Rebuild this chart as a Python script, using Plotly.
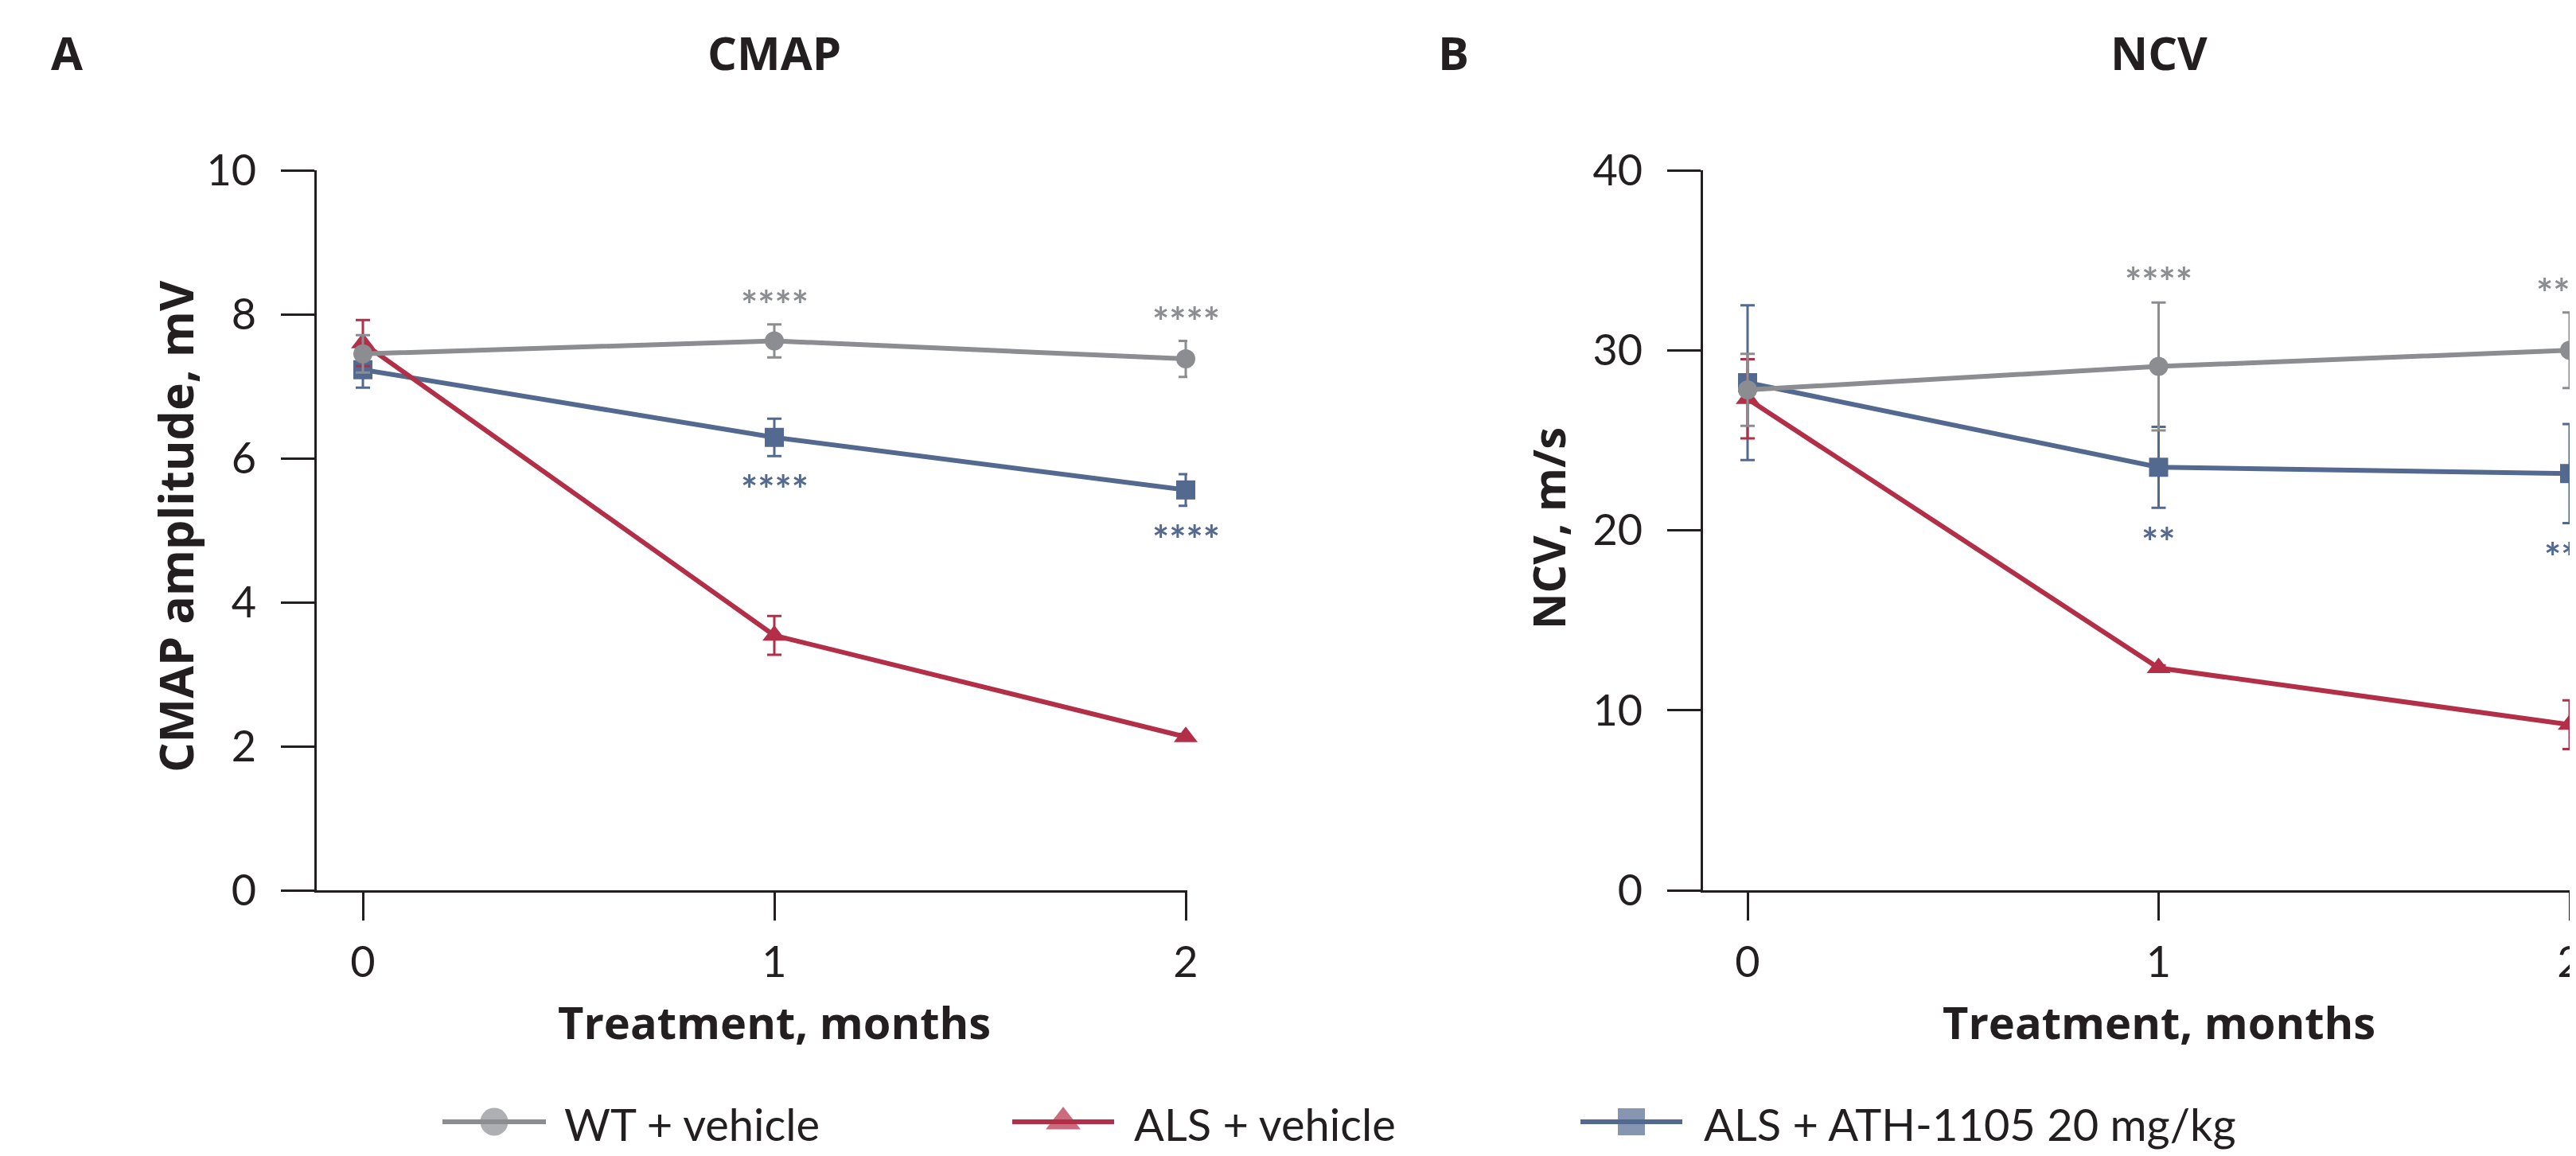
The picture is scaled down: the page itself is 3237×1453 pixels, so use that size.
import plotly.graph_objects as go

# ---------------- data ----------------
months = [0, 1, 2]

series_names = ["WT + vehicle", "ALS + vehicle", "ALS + ATH-1105 20 mg/kg"]

cmap_wt = [7.45, 7.63, 7.38]
cmap_wt_err = [0.26, 0.23, 0.25]
cmap_als = [7.6, 3.54, 2.13]
cmap_als_err = [0.32, 0.27, 0.04]
cmap_ath = [7.23, 6.29, 5.56]
cmap_ath_err = [0.25, 0.26, 0.22]

ncv_wt = [27.8, 29.1, 30.0]
ncv_wt_err = [2.0, 3.55, 2.1]
ncv_als = [27.3, 12.35, 9.2]
ncv_als_err = [2.2, 0.15, 1.35]
ncv_ath = [28.2, 23.5, 23.15]
ncv_ath_err = [4.3, 2.25, 2.75]

# significance labels: (month, label, y-position in data units)
cmap_sig_wt = [(1, "****", 8.13), (2, "****", 7.90)]
cmap_sig_ath = [(1, "****", 5.57), (2, "****", 4.87)]
ncv_sig_wt = [(1, "****", 33.8), (2, "****", 33.2)]
ncv_sig_ath = [(1, "**", 19.35), (2, "***", 18.5)]

x_ticks = [0, 1, 2]
cmap_yticks = [0, 2, 4, 6, 8, 10]
ncv_yticks = [0, 10, 20, 30, 40]

# ---------------- style ----------------
W, H = 3237, 1453
OFF = 8  # page body margin
GRAY = "#8C8D91"
RED = "#B22F47"
BLUE = "#53698F"
INK = "#231F20"
FONT = "Lato"
BFONT = "Open Sans"
colors = [GRAY, RED, BLUE]
symbols = ["circle", "triangle-up", "square"]
msizes = [24, 26, 24]

def px_x(p):
    return (p - OFF) / W

def px_y(p):
    return 1 - (p - OFF) / H

fig = go.Figure()

def add_panel(xa, ya, ys, errs):
    for name, y, e, c, s, ms in zip(series_names, ys, errs, colors, symbols, msizes):
        fig.add_trace(go.Scatter(
            x=months, y=y, name=name, mode="lines+markers",
            line=dict(color=c, width=6),
            marker=dict(color=c, symbol=s, size=ms, line=dict(width=0)),
            error_y=dict(type="data", array=e, visible=True, color=c, thickness=3, width=9),
            cliponaxis=False, showlegend=False, xaxis=xa, yaxis=ya,
        ))

add_panel("x", "y",
          [cmap_wt, cmap_als, cmap_ath],
          [cmap_wt_err, cmap_als_err, cmap_ath_err])
add_panel("x2", "y2",
          [ncv_wt, ncv_als, ncv_ath],
          [ncv_wt_err, ncv_als_err, ncv_ath_err])

# draw grey last within each panel
d = list(fig.data)
fig.data = [d[2], d[1], d[0], d[5], d[4], d[3]]

# ---------------- manual legend ----------------
leg_y = 1410
leg_items = [(556, 686, 707), (1272, 1400, 1423), (1986, 2114, 2139)]
leg_msizes = [35, 38, 34]
for (x0, x1, xt), name, c, s, ms in zip(leg_items, series_names, colors, symbols, leg_msizes):
    fig.add_trace(go.Scatter(
        x=[x0, (x0 + x1) / 2, x1], y=[leg_y] * 3, mode="lines+markers",
        line=dict(color=c, width=6),
        marker=dict(color=c, symbol=s, size=[0, ms, 0], line=dict(width=0)),
        showlegend=False, xaxis="x3", yaxis="y3", cliponaxis=False, hoverinfo="skip",
    ))
    fig.add_annotation(text=name, xref="x3", yref="y3", x=xt, y=leg_y + 2,
                       xanchor="left", yanchor="middle", showarrow=False,
                       font=dict(family=FONT, size=56, color=INK))

# ---------------- axes ----------------
axis_common = dict(showline=True, linecolor=INK, linewidth=3, ticks="outside",
                   tickcolor=INK, tickwidth=3, showgrid=False, zeroline=False,
                   automargin=False, ticklabeloverflow="allow",
                   tickfont=dict(family=FONT, size=54, color=INK))

y0_px, y1_px = 1119, 214
ax_a = (398, 456, 1492, 517.0)    # axis start, month-0 position, axis end, px per month
ax_b = (2140, 2196, OFF + W, 516.5)
fig.update_layout(
    width=W, height=H, margin=dict(l=0, r=0, t=0, b=0, pad=0, autoexpand=False),
    paper_bgcolor="white", plot_bgcolor="rgba(0,0,0,0)",
    showlegend=False,
    xaxis=dict(domain=[px_x(ax_a[0]), px_x(ax_a[2])],
               range=[(ax_a[0] - ax_a[1]) / ax_a[3], (ax_a[2] - ax_a[1]) / ax_a[3]], anchor="y",
               tickvals=x_ticks, ticklen=35, ticklabelstandoff=6, **axis_common),
    yaxis=dict(domain=[px_y(y0_px), px_y(y1_px)], range=[0, 10], anchor="x",
               tickvals=cmap_yticks, ticklen=42, ticklabelstandoff=20, **axis_common),
    xaxis2=dict(domain=[px_x(ax_b[0]), 1.0],
                range=[(ax_b[0] - ax_b[1]) / ax_b[3], (ax_b[2] - ax_b[1]) / ax_b[3]], anchor="y2",
                tickvals=x_ticks, ticklen=35, ticklabelstandoff=6, **axis_common),
    yaxis2=dict(domain=[px_y(y0_px), px_y(y1_px)], range=[0, 40], anchor="x2",
                tickvals=ncv_yticks, ticklen=42, ticklabelstandoff=20, **axis_common),
    xaxis3=dict(domain=[0, 1], range=[OFF, OFF + W], visible=False, anchor="y3", fixedrange=True),
    yaxis3=dict(domain=[0, 1], range=[OFF + H, OFF], visible=False, anchor="x3", fixedrange=True),
)

# ---------------- text ----------------
bold = dict(family=BFONT, size=58, color=INK, weight="bold")

def ann(**kw):
    kw.setdefault("showarrow", False)
    fig.add_annotation(**kw)

# panel letters and titles
title_y = 65
ann(text="A", xref="paper", yref="paper", x=px_x(62), y=px_y(title_y), xanchor="left", yanchor="middle", font=bold)
ann(text="B", xref="paper", yref="paper", x=px_x(1805), y=px_y(title_y), xanchor="left", yanchor="middle", font=bold)
ann(text="CMAP", xref="x", yref="paper", x=1, y=px_y(title_y), xanchor="center", yanchor="middle", font=bold)
ann(text="NCV", xref="x2", yref="paper", x=1, y=px_y(title_y), xanchor="center", yanchor="middle", font=bold)

# x axis titles
xt_font = dict(family=BFONT, size=56, color=INK, weight="bold")
ann(text="Treatment, months", xref="x", yref="paper", x=1, y=px_y(1284), xanchor="center", yanchor="middle", font=xt_font)
ann(text="Treatment, months", xref="x2", yref="paper", x=1, y=px_y(1284), xanchor="center", yanchor="middle", font=xt_font)

# y axis titles
ann(text="CMAP amplitude, mV", xref="paper", yref="paper", x=px_x(220), y=px_y(662), textangle=-90,
    xanchor="center", yanchor="middle", font=dict(family=BFONT, size=59, color=INK, weight="bold"))
ann(text="NCV, m/s", xref="paper", yref="paper", x=px_x(1945), y=px_y(664), textangle=-90,
    xanchor="center", yanchor="middle", font=xt_font)

# significance asterisks
star_font = 50
for xa, ya, sigs, c in [("x", "y", cmap_sig_wt, GRAY), ("x", "y", cmap_sig_ath, BLUE),
                        ("x2", "y2", ncv_sig_wt, GRAY), ("x2", "y2", ncv_sig_ath, BLUE)]:
    for m, lab, yy in sigs:
        ann(text=lab, xref=xa, yref=ya, x=m, y=yy, xanchor="center", yanchor="middle",
            font=dict(family=FONT, size=star_font, color=c, weight="bold"))

fig.write_html("out.html")
